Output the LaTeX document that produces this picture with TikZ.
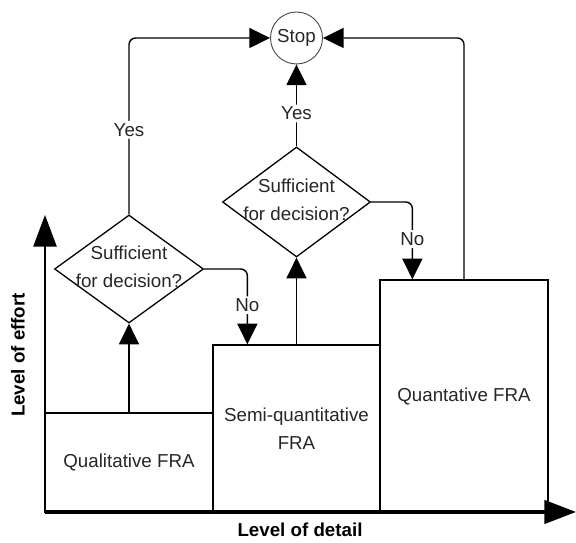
\documentclass[tikz,border=0pt]{standalone}
\usepackage{fontspec}
\setmainfont{Liberation Sans}
\usetikzlibrary{shapes,arrows.meta,positioning,calc}

\begin{document}
\begin{tikzpicture}[
    font=\fontsize{16}{24}\selectfont,
    fra/.style={rectangle, draw, line width=1.1pt, align=center, inner sep=0pt, text=black!85},
    decision/.style={diamond, draw, line width=1.1pt, minimum width=4.47cm, minimum height=3.24cm, inner sep=0pt},
    stopstyle/.style={circle, draw=black!70, line width=0.8pt, minimum size=1.56cm, inner sep=0pt, text=black!85},
    flow/.style={line width=1.2pt, rounded corners=0.2cm, -{Triangle[length=0.62cm,width=0.6cm]}},
    axis/.style={-{Triangle[length=0.95cm,width=0.7cm]}},
    flowlabel/.style={fill=white, inner sep=2pt, text=black!85},
    axislabel/.style={font=\fontsize{16}{19}\selectfont\bfseries}
]
\useasboundingbox (0,0) rectangle (17.28,16.29);

% FRA boxes
\node[fra, minimum width=5.04cm, minimum height=2.97cm] (qualBox) at (3.87,2.415) {Qualitative FRA};
\node[fra, minimum width=5.01cm, minimum height=5.01cm] (semiBox) at (8.895,3.435) {Semi-quantitative\\FRA};
\node[fra, minimum width=5.04cm, minimum height=6.96cm] (quantBox) at (13.92,4.41) {Quantative FRA};

% Decisions and stop
\node[decision, label={[align=center, text=black!85, yshift=1.5pt]center:Sufficient\\for decision?}] (decisionOne) at (3.87,8.22) {};
\node[decision, minimum width=4.44cm, minimum height=3.3cm, label={[align=center, text=black!85, yshift=1.5pt]center:Sufficient\\for decision?}] (decisionTwo) at (8.895,10.23) {};
\node[stopstyle] (stopNode) at (8.895,15.15) {Stop};

% Connectors
\draw[flow] (qualBox.north) -- (decisionOne.south);
\draw[flow] (semiBox.north) -- (decisionTwo.south);
\draw[flow] (decisionOne.north) |- node[flowlabel, pos=0.24] {Yes} (stopNode.west);
\draw[flow] (decisionTwo.north) -- node[flowlabel, pos=0.4] {Yes} (stopNode.south);
\draw[flow] (quantBox.north) |- (stopNode.east);
\draw[flow] (decisionOne.east) -| node[flowlabel, pos=0.74] {No} ([xshift=1.05cm]semiBox.north west);
\draw[flow] (decisionTwo.east) -| node[flowlabel, pos=0.74] {No} ([xshift=0.99cm]quantBox.north west);

% Axes
\coordinate (origin) at (1.35,0.93);
\coordinate (effortEnd) at (1.35,9.84);
\coordinate (detailEnd) at (17.28,0.93);
\draw[axis, line width=1.3pt] (origin) -- (effortEnd);
\draw[axis, line width=3pt] (origin) -- (detailEnd);
\node[axislabel, rotate=90] (effortLabel) at (0.54,5.64) {Level of effort};
\node[axislabel] (detailLabel) at (9.0,0.39) {Level of detail};

\end{tikzpicture}
\end{document}
